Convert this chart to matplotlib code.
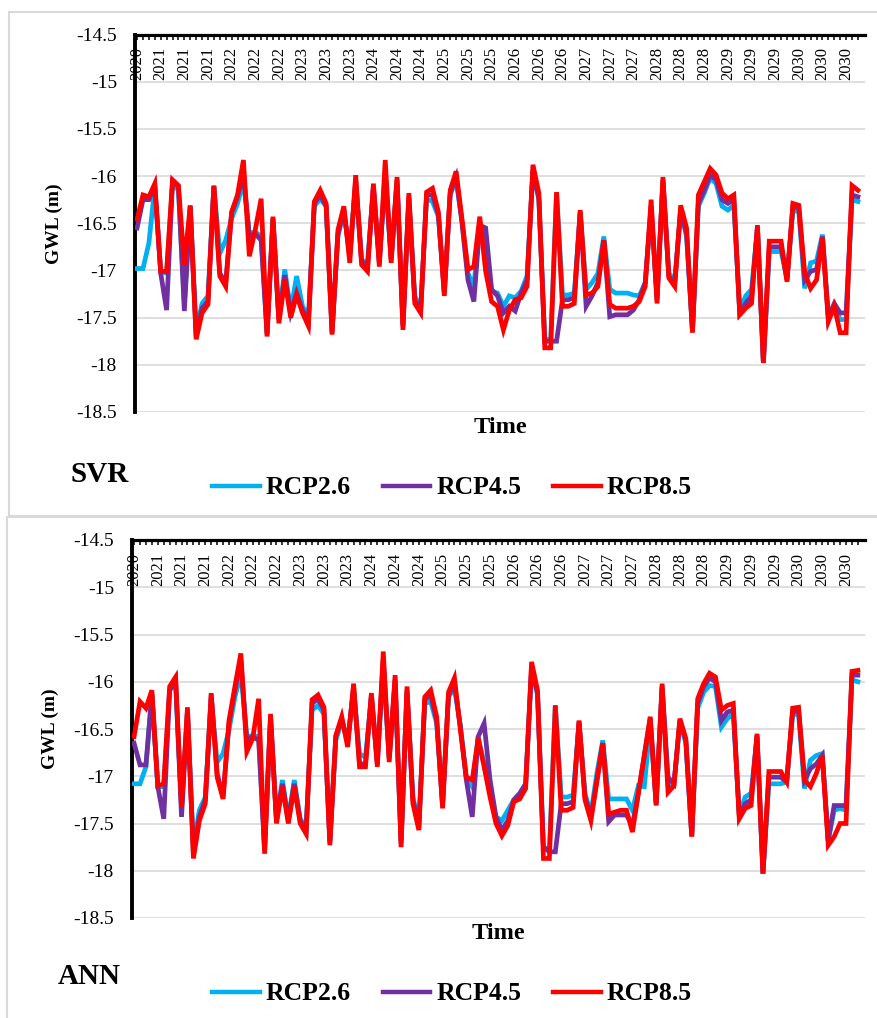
import matplotlib
matplotlib.use("Agg")
import matplotlib.pyplot as plt
from matplotlib.lines import Line2D
from matplotlib.patches import Rectangle
import numpy as np

plt.rcParams['font.family'] = ['Liberation Serif', 'DejaVu Serif']

# ---------------- data ----------------
tick_years = ['2020',
              '2021', '2021', '2021', '2022', '2022', '2022', '2023', '2023', '2023',
              '2024', '2024', '2024', '2025', '2025', '2025', '2026', '2026', '2026',
              '2027', '2027', '2027', '2028', '2028', '2028', '2029', '2029', '2029',
              '2030', '2030', '2030']
series_names = ['RCP2.6', 'RCP4.5', 'RCP8.5']
panel_names = ['SVR', 'ANN']

svr_rcp85 = [-16.46, -16.20, -16.22, -16.08, -17.01, -17.01, -16.04, -16.10, -16.94, -16.31,
             -17.73, -17.45, -17.36, -16.10, -17.06, -17.17, -16.38, -16.20, -15.83, -16.85,
             -16.57, -16.24, -17.70, -16.43, -17.56, -17.10, -17.50, -17.26, -17.45, -17.59,
             -16.27, -16.15, -16.29, -17.68, -16.57, -16.32, -16.92, -15.99, -16.94, -17.01,
             -16.08, -16.96, -15.83, -16.92, -16.01, -17.63, -16.18, -17.35, -17.45, -16.17,
             -16.13, -16.38, -17.27, -16.15, -15.95, -16.46, -16.99, -16.96, -16.43, -17.01,
             -17.33, -17.38, -17.63, -17.42, -17.31, -17.29, -17.17, -15.88, -16.18, -17.82,
             -17.82, -16.17, -17.38, -17.38, -17.35, -16.36, -17.26, -17.24, -17.17, -16.68,
             -17.36, -17.40, -17.40, -17.40, -17.38, -17.33, -17.17, -16.25, -17.35, -16.01,
             -17.08, -17.17, -16.31, -16.55, -17.66, -16.20, -16.06, -15.92, -15.99, -16.18,
             -16.24, -16.20, -17.47, -17.40, -17.35, -16.52, -17.98, -16.69, -16.69, -16.69,
             -17.12, -16.29, -16.31, -17.03, -17.19, -17.10, -16.66, -17.54, -17.38, -17.66,
             -17.66, -16.10, -16.15]
svr_rcp45 = [-16.55, -16.25, -16.25, -16.10, -17.03, -17.42, -16.06, -16.11, -17.43, -16.32,
             -17.70, -17.40, -17.33, -16.11, -17.03, -17.13, -16.39, -16.22, -15.97, -16.64,
             -16.61, -16.68, -17.68, -16.45, -17.52, -17.05, -17.45, -17.24, -17.42, -17.54,
             -16.29, -16.20, -16.32, -17.66, -16.61, -16.36, -16.85, -16.04, -16.90, -16.96,
             -16.11, -16.92, -15.97, -16.89, -16.04, -17.59, -16.22, -17.31, -17.42, -16.20,
             -16.20, -16.41, -17.24, -16.18, -16.01, -16.50, -17.10, -17.33, -16.52, -16.55,
             -17.20, -17.27, -17.45, -17.38, -17.43, -17.24, -17.10, -15.94, -16.24, -17.75,
             -17.75, -17.75, -17.31, -17.31, -17.29, -16.38, -17.38, -17.27, -17.13, -16.68,
             -17.49, -17.47, -17.47, -17.47, -17.42, -17.31, -17.13, -16.32, -17.31, -16.04,
             -17.06, -17.13, -16.36, -16.61, -17.64, -16.29, -16.15, -15.99, -16.04, -16.25,
             -16.29, -16.25, -17.45, -17.35, -17.27, -16.54, -17.98, -16.75, -16.75, -16.75,
             -17.10, -16.32, -16.34, -17.10, -17.01, -16.99, -16.64, -17.49, -17.35, -17.45,
             -17.45, -16.20, -16.22]
svr_rcp26 = [-16.98, -16.98, -16.71, -16.11, -17.01, -17.03, -16.08, -16.15, -17.35, -16.32,
             -17.64, -17.35, -17.27, -16.11, -16.82, -16.68, -16.45, -16.29, -16.06, -16.61,
             -16.59, -16.64, -17.66, -16.46, -17.50, -16.99, -17.43, -17.06, -17.38, -17.49,
             -16.32, -16.24, -16.32, -17.64, -16.64, -16.38, -16.82, -16.08, -16.89, -16.92,
             -16.13, -16.89, -16.04, -16.87, -16.08, -17.57, -16.25, -17.27, -17.40, -16.24,
             -16.27, -16.43, -17.22, -16.20, -16.04, -16.48, -17.03, -17.17, -16.48, -16.78,
             -17.22, -17.24, -17.38, -17.27, -17.29, -17.22, -17.06, -15.95, -16.25, -17.73,
             -17.73, -16.18, -17.26, -17.26, -17.24, -16.39, -17.20, -17.13, -17.03, -16.64,
             -17.20, -17.24, -17.24, -17.24, -17.26, -17.27, -17.13, -16.36, -17.27, -16.06,
             -17.03, -17.10, -16.38, -16.64, -17.64, -16.32, -16.18, -16.02, -16.08, -16.32,
             -16.36, -16.31, -17.42, -17.27, -17.20, -16.55, -17.98, -16.80, -16.80, -16.80,
             -17.08, -16.36, -16.38, -17.19, -16.92, -16.90, -16.62, -17.52, -17.38, -17.52,
             -17.52, -16.25, -16.27]

ann_rcp85 = [-16.58, -16.21, -16.28, -16.09, -17.10, -17.08, -16.05, -15.95, -17.33, -16.27,
             -17.87, -17.47, -17.29, -16.12, -17.01, -17.24, -16.41, -16.05, -15.70, -16.74,
             -16.60, -16.18, -17.82, -16.34, -17.50, -17.11, -17.50, -17.11, -17.50, -17.61,
             -16.19, -16.14, -16.27, -17.73, -16.57, -16.37, -16.69, -16.02, -16.90, -16.90,
             -16.12, -16.90, -15.68, -16.85, -15.93, -17.75, -16.05, -17.29, -17.57, -16.16,
             -16.09, -16.37, -17.34, -16.11, -15.96, -16.51, -17.01, -17.04, -16.60, -16.90,
             -17.22, -17.50, -17.63, -17.52, -17.27, -17.24, -17.13, -15.79, -16.09, -17.87,
             -17.87, -16.25, -17.36, -17.36, -17.33, -16.41, -17.25, -17.47, -17.06, -16.65,
             -17.40, -17.38, -17.36, -17.36, -17.59, -17.18, -16.78, -16.37, -17.31, -16.02,
             -17.17, -17.10, -16.39, -16.60, -17.64, -16.18, -16.02, -15.91, -15.95, -16.30,
             -16.25, -16.23, -17.45, -17.34, -17.31, -16.55, -18.03, -16.95, -16.95, -16.95,
             -17.06, -16.28, -16.27, -17.04, -17.11, -16.97, -16.78, -17.73, -17.64, -17.50,
             -17.50, -15.89, -15.88]
ann_rcp45 = [-16.65, -16.88, -16.88, -16.12, -17.11, -17.45, -16.09, -15.98, -17.43, -16.30,
             -17.82, -17.43, -17.25, -16.14, -16.97, -17.22, -16.44, -16.09, -15.77, -16.62,
             -16.58, -16.62, -17.78, -16.37, -17.47, -17.08, -17.47, -17.08, -17.47, -17.57,
             -16.23, -16.18, -16.30, -17.70, -16.58, -16.39, -16.65, -16.05, -16.87, -16.87,
             -16.14, -16.87, -15.77, -16.81, -15.98, -17.71, -16.09, -17.25, -17.54, -16.19,
             -16.14, -16.41, -17.31, -16.14, -16.02, -16.48, -17.04, -17.43, -16.58, -16.44,
             -17.04, -17.43, -17.57, -17.47, -17.25, -17.18, -17.08, -15.84, -16.12, -17.75,
             -17.80, -17.80, -17.29, -17.29, -17.27, -16.42, -17.22, -17.43, -17.04, -16.65,
             -17.48, -17.41, -17.41, -17.41, -17.52, -17.18, -16.78, -16.39, -17.29, -16.05,
             -17.01, -17.08, -16.41, -16.62, -17.63, -16.23, -16.05, -15.96, -16.00, -16.41,
             -16.32, -16.30, -17.41, -17.29, -17.25, -16.57, -18.03, -17.01, -17.01, -17.01,
             -17.06, -16.32, -16.30, -17.04, -16.92, -16.87, -16.78, -17.68, -17.31, -17.31,
             -17.31, -15.93, -15.93]
ann_rcp26 = [-17.08, -17.08, -16.90, -16.14, -17.11, -17.11, -16.09, -16.02, -17.33, -16.32,
             -17.75, -17.36, -17.22, -16.18, -16.85, -16.76, -16.51, -16.16, -15.91, -16.58,
             -16.57, -16.58, -17.77, -16.39, -17.45, -17.04, -17.45, -17.04, -17.45, -17.54,
             -16.30, -16.25, -16.34, -17.68, -16.62, -16.42, -16.62, -16.09, -16.76, -16.80,
             -16.16, -16.83, -15.84, -16.80, -16.02, -17.68, -16.12, -17.22, -17.50, -16.23,
             -16.21, -16.44, -17.29, -16.16, -16.07, -16.46, -17.01, -17.11, -16.58, -16.87,
             -17.18, -17.43, -17.47, -17.36, -17.25, -17.20, -17.08, -15.88, -16.14, -17.75,
             -17.78, -16.25, -17.22, -17.22, -17.20, -16.44, -17.18, -17.40, -16.97, -16.62,
             -17.24, -17.24, -17.24, -17.24, -17.36, -17.10, -17.11, -16.44, -17.29, -16.07,
             -17.08, -17.08, -16.42, -16.65, -17.63, -16.28, -16.11, -16.04, -16.05, -16.48,
             -16.39, -16.34, -17.40, -17.22, -17.18, -16.58, -18.03, -17.08, -17.08, -17.08,
             -17.06, -16.35, -16.34, -17.13, -16.83, -16.78, -16.76, -17.68, -17.36, -17.34,
             -17.36, -15.98, -16.00]

y_ticks = [-18.5, -18, -17.5, -17, -16.5, -16, -15.5, -15, -14.5]
y_ticklabels = ['-18.5', '-18', '-17.5', '-17', '-16.5', '-16', '-15.5', '-15', '-14.5']

# ---------------- style ----------------
colors = ['#00B0F0', '#7030A0', '#FF0000']
W, H = 877, 1018
fig = plt.figure(figsize=(W / 100, H / 100), dpi=100)

def fx(px):
    return px / W

def fy(py):
    return 1 - py / H

# panel borders
fig.patches.append(Rectangle((fx(9), fy(516)), 1.2, fy(12) - fy(516), transform=fig.transFigure,
                             fill=False, edgecolor='#d9d9d9', lw=1.5, zorder=0))
fig.patches.append(Rectangle((fx(7), -0.2), 1.2, fy(517) + 0.2, transform=fig.transFigure,
                             fill=False, edgecolor='#d9d9d9', lw=1.5, zorder=0))

panels = [
    dict(name='SVR', data=[svr_rcp26, svr_rcp45, svr_rcp85], left=135, top=34.5, bottom=412,
         title_xy=(70, 474), legend_y=488),
    dict(name='ANN', data=[ann_rcp26, ann_rcp45, ann_rcp85], left=132, top=540, bottom=918,
         title_xy=(58, 977), legend_y=994),
]

for p in panels:
    ax = fig.add_axes([fx(p['left']), fy(p['bottom']), fx(865) - fx(p['left']),
                       fy(p['top']) - fy(p['bottom'])])
    n = len(p['data'][0])
    x = np.arange(n)
    for vals, c, nm in zip(p['data'], colors, series_names):
        ax.plot(x, vals, color=c, lw=3.4, label=nm, solid_joinstyle='miter', zorder=3)

    ax.set_xlim(-0.35, n - 1 + 1.2)
    ax.set_ylim(-18.5, -14.5)
    ax.set_yticks(y_ticks)
    ax.set_yticklabels(y_ticklabels, fontsize=14)
    ax.tick_params(axis='y', length=0, pad=13)
    ax.yaxis.grid(True, color='#d9d9d9', lw=1.2)
    ax.set_axisbelow(True)

    # category axis on top, tick marks for every category
    ax.xaxis.tick_top()
    ax.set_xticks(x)
    ax.set_xticklabels([''] * n)
    ax.tick_params(axis='x', direction='in', length=3.5, width=1.1, color='black',
                   top=True, bottom=False, labeltop=False, labelbottom=False)
    for k, lab in enumerate(tick_years):
        ax.annotate(lab, xy=(4 * k, 1), xycoords=('data', 'axes fraction'),
                    xytext=(0, -9), textcoords='offset points', rotation=90,
                    ha='center', va='top', fontsize=12)

    for s in ['right', 'bottom']:
        ax.spines[s].set_visible(False)
    ax.spines['left'].set_linewidth(2.8)
    ax.spines['top'].set_linewidth(2.3)

    ax.set_ylabel('GWL (m)', fontsize=14, fontweight='bold')
    ax.yaxis.set_label_coords(-0.099, 0.5)
    ax.xaxis.set_label_position('bottom')
    ax.set_xlabel('Time', fontsize=17.5, fontweight='bold')
    ax.xaxis.set_label_coords(0.5, -0.014)

    fig.text(fx(p['title_xy'][0]), fy(p['title_xy'][1]), p['name'], fontsize=21,
             fontweight='bold', ha='left', va='center')

    handles = [Line2D([0], [0], color=c, lw=3.2) for c in colors]
    fig.legend(handles, series_names, loc='center', bbox_to_anchor=(fx(452), fy(p['legend_y'])),
               ncol=3, frameon=False, prop={'weight': 'bold', 'size': 18.5},
               handlelength=1.85, handletextpad=0.22, columnspacing=1.25)

fig.savefig('out.png', dpi=100)
